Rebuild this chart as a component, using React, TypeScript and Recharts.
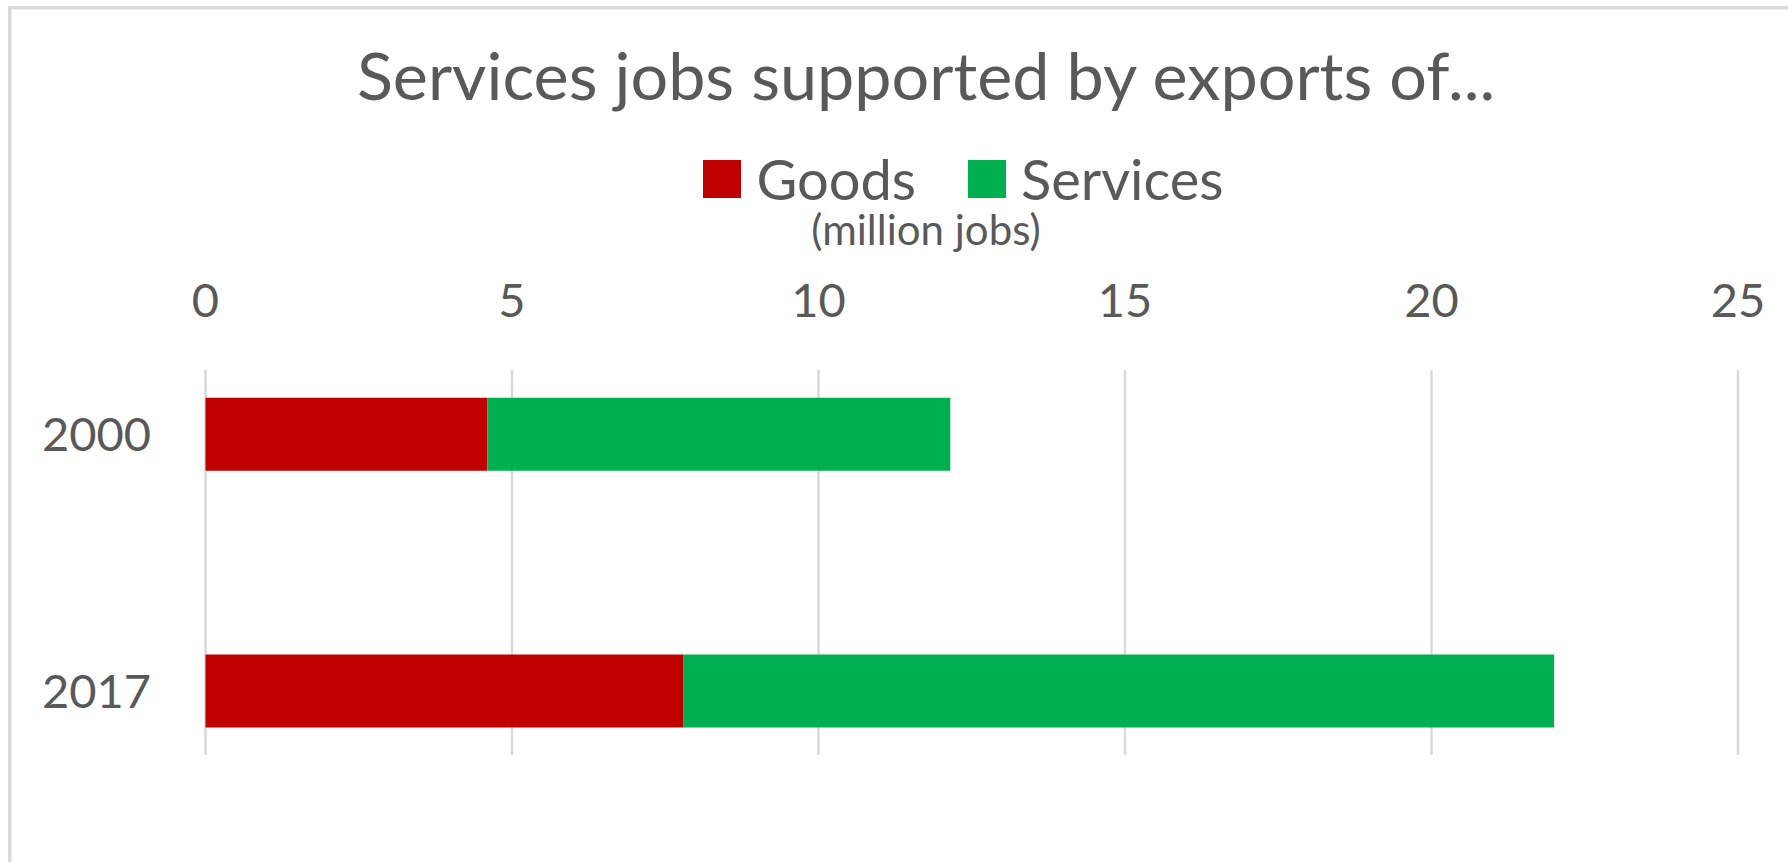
import React from 'react';
import { BarChart, Bar, XAxis, YAxis, CartesianGrid, Legend } from 'recharts';

const years = ['2000', '2017'];
const goods = [4.6, 7.8];
const services = [7.55, 14.2];
const xTicks = [0, 5, 10, 15, 20, 25];

const FONT = 'Lato, "Open Sans", sans-serif';
const TEXT = '#595959';
const GRID = '#d9d9d9';

const data = years.map((year, i) => ({
  idx: i,
  year,
  Goods: goods[i],
  Services: services[i],
}));

function LegendContent({ payload }: any) {
  return (
    <div
      style={{
        display: 'flex',
        justifyContent: 'center',
        alignItems: 'center',
        fontFamily: FONT,
        fontSize: 56,
        color: TEXT,
        lineHeight: '44px',
      }}
    >
      {(payload || []).map((entry: any, i: number) => (
        <div
          key={entry.value}
          style={{ display: 'flex', alignItems: 'center', marginLeft: i === 0 ? 0 : 52 }}
        >
          <span style={{ width: 38, height: 38, background: entry.color, marginRight: 15 }} />
          <span style={{ height: 44 }}>{entry.value}</span>
        </div>
      ))}
    </div>
  );
}

export default function App() {
  return (
    <div
      style={{
        position: 'fixed',
        left: 0,
        top: 0,
        width: 1788,
        height: 862,
        overflow: 'hidden',
        background: '#fff',
      }}
    >
      <svg
        width={1788}
        height={862}
        style={{ position: 'absolute', left: 0, top: 0 }}
      >
        {/* chart frame, cut off at the right and bottom like the original */}
        <path d="M 9.75 900 V 7.75 H 1800" fill="none" stroke={GRID} strokeWidth={3.5} />
        <text
          x={926}
          y={100}
          textAnchor="middle"
          fontFamily={FONT}
          fontSize={66.5}
          fill={TEXT}
        >
          Services jobs supported by exports of...
        </text>
        <text
          x={926}
          y={245}
          textAnchor="middle"
          fontFamily={FONT}
          fontSize={42}
          fill={TEXT}
        >
          (million jobs)
        </text>
      </svg>
      <div style={{ position: 'absolute', left: 0, top: 0 }}>
        <BarChart
          width={1788}
          height={862}
          data={data}
          layout="vertical"
          margin={{ top: 300, right: 50, bottom: 107, left: 0 }}
        >
          <CartesianGrid horizontal={false} stroke={GRID} strokeWidth={2.5} />
          <XAxis
            type="number"
            orientation="top"
            domain={[0, 25]}
            ticks={xTicks}
            height={70}
            axisLine={false}
            tickLine={false}
            tickSize={0}
            tickMargin={53}
            tick={{ fill: TEXT, fontSize: 47, fontFamily: FONT }}
          />
          <YAxis
            type="number"
            dataKey="idx"
            domain={[-0.25, 1.25]}
            ticks={[0, 1]}
            width={205.5}
            axisLine={false}
            tickLine={false}
            tickSize={0}
            tickMargin={54.5}
            tickFormatter={(v: number) => years[v]}
            tick={{ fill: TEXT, fontSize: 47, fontFamily: FONT }}
          />
          <Legend
            verticalAlign="middle"
            align="center"
            layout="horizontal"
            wrapperStyle={{
              top: 157,
              left: 0,
              width: 1788,
              paddingLeft: 139,
              boxSizing: 'border-box',
            }}
            content={<LegendContent />}
          />
          <Bar dataKey="Goods" stackId="a" fill="#c00000" barSize={73} isAnimationActive={false} />
          <Bar dataKey="Services" stackId="a" fill="#00b050" barSize={73} isAnimationActive={false} />
        </BarChart>
      </div>
    </div>
  );
}
